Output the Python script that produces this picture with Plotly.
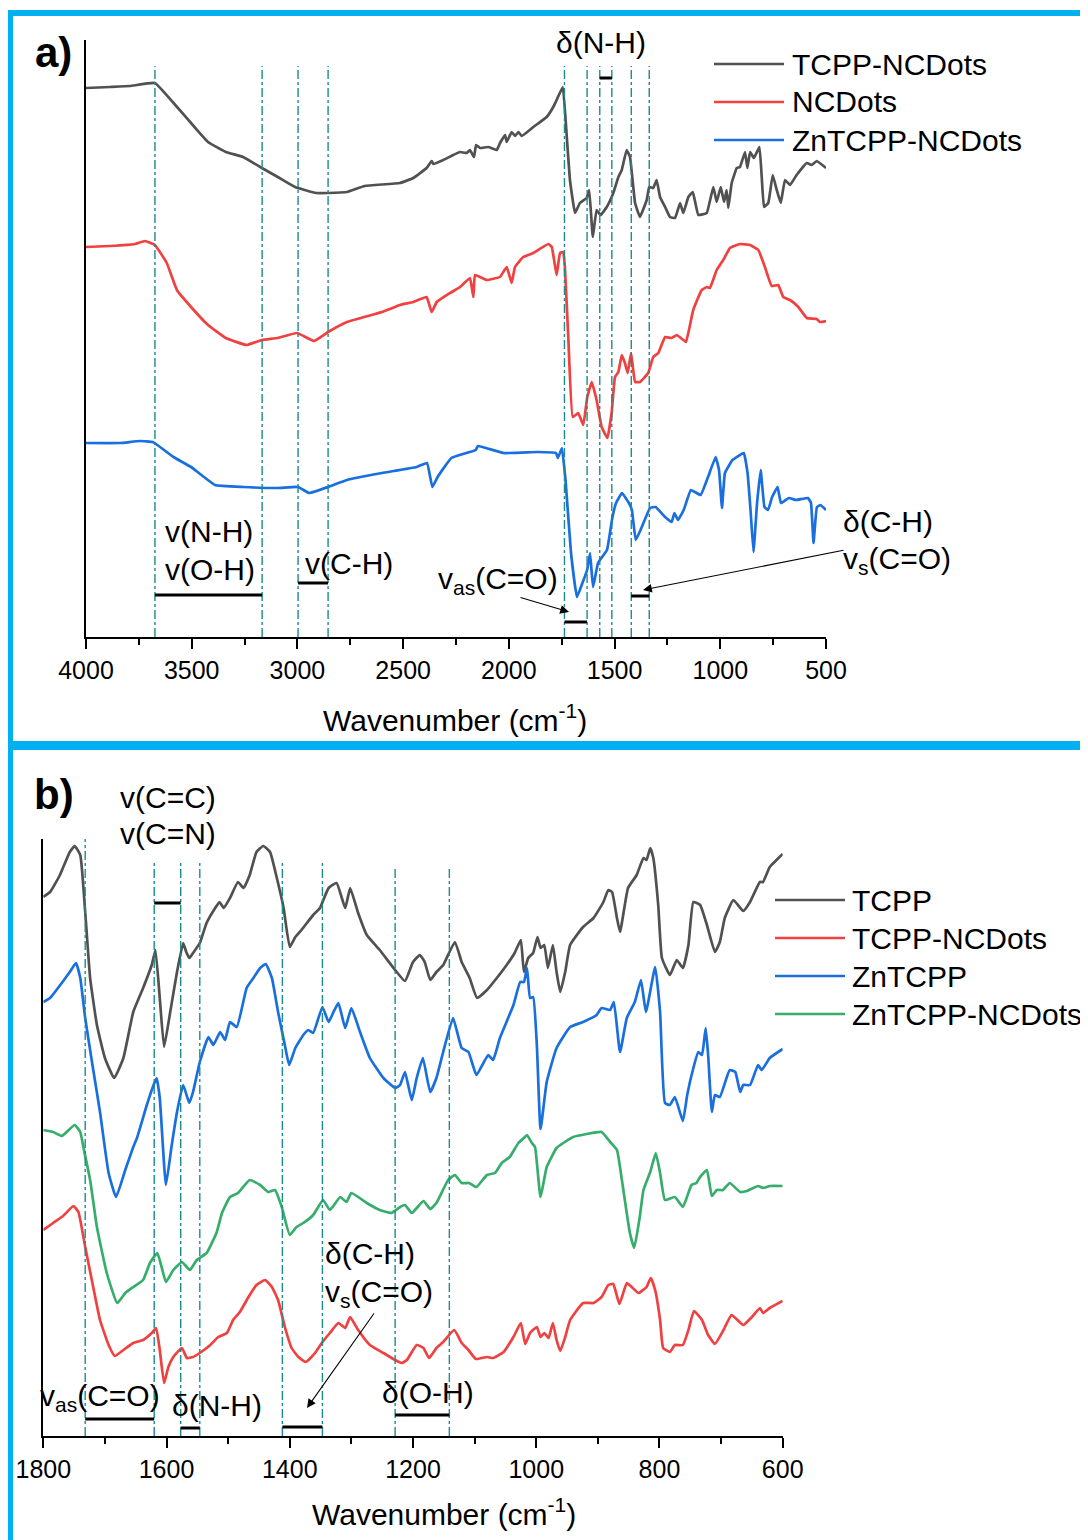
import plotly.graph_objects as go

W, H = 1088, 1540
OFF = 8  # browser default body margin, compensated so the figure lands at the reference pixels
FONT = "Liberation Sans, Arial, sans-serif"

# ---------------- Panel a data (wavenumber, transmittance readout in plot units) ----------------
a_tcpp_ncdots_x = [4000, 3886, 3792, 3674, 3586, 3487, 3423, 3339, 3257, 3168, 3093, 3011, 2912, 2855, 2766, 2682,
                   2515, 2452, 2389, 2365, 2357, 2310, 2263, 2231, 2199, 2184, 2165, 2155, 2136, 2097, 2057, 2042,
                   2018, 2010, 1987, 1971, 1955, 1939, 1884, 1821, 1790, 1774,
                   1745, 1726, 1711, 1687, 1664, 1632, 1620, 1603, 1585, 1566, 1537, 1506, 1482, 1466, 1443, 1427,
                   1403, 1380, 1348, 1336, 1317, 1301, 1285, 1261, 1238, 1214, 1190, 1175, 1151, 1130, 1104, 1064,
                   1033, 1017, 998, 982, 970, 962, 946, 922, 907, 883, 872, 859, 841, 815, 804, 793, 773, 752,
                   733, 714, 694, 670, 639, 591, 568, 544, 500]
a_tcpp_ncdots_y = [88, 87, 86, 83, 103, 127, 142, 152, 157, 168, 177, 187, 193, 193, 192, 186,
                   183, 178, 168, 161, 164, 160, 155, 152, 153, 150, 157, 145, 148, 147, 150, 143,
                   135, 142, 132, 136, 132, 136, 127, 117, 107, 100,
                   87, 137, 180, 213, 203, 198, 190, 237, 210, 215, 207, 193, 177, 170, 150, 157,
                   203, 217, 200, 187, 188, 180, 197, 207, 217, 218, 203, 213, 197, 192, 215, 213,
                   187, 202, 187, 202, 190, 208, 183, 168, 167, 152, 168, 152, 158, 147, 177, 207, 203, 175,
                   190, 203, 180, 185, 175, 163, 165, 161, 168]

a_ncdots_x = [4000, 3886, 3768, 3721, 3674, 3618, 3570, 3503, 3423, 3339, 3241, 3168, 3093, 3002, 2922, 2855,
              2766, 2600, 2515, 2452, 2389, 2365, 2341, 2278, 2231, 2184, 2168, 2160, 2105, 2042, 2010, 1987,
              1971, 1932, 1884, 1813, 1797, 1774, 1758, 1743, 1735, 1719, 1698, 1672, 1648, 1629, 1608, 1585,
              1561, 1534, 1514, 1498, 1482, 1466, 1451, 1438, 1422, 1403, 1380, 1341, 1317, 1293, 1261, 1230,
              1206, 1175, 1162, 1128, 1088, 1064, 1049, 1017, 986, 954, 907, 859, 820, 789, 757, 726, 702,
              670, 631, 591, 544, 530, 500]
a_ncdots_y = [247, 246, 244, 241, 245, 263, 290, 307, 325, 338, 345, 340, 338, 333, 341, 332,
              322, 312, 305, 302, 297, 312, 302, 293, 287, 278, 297, 275, 280, 277, 267, 283,
              267, 257, 253, 244, 247, 275, 253, 252, 267, 337, 417, 413, 425, 397, 382, 400,
              427, 438, 413, 377, 372, 355, 363, 373, 353, 382, 382, 373, 357, 353, 337, 338,
              335, 340, 342, 310, 290, 287, 288, 270, 260, 248, 244, 245, 250, 267, 286, 285, 297,
              300, 307, 318, 319, 322, 321]

a_zntcpp_ncdots_x = [4000, 3839, 3745, 3684, 3669, 3586, 3503, 3390, 3257, 3093, 2997, 2945, 2855, 2766, 2600,
                     2436, 2387, 2362, 2337, 2272, 2157, 2146, 2025, 1865, 1777, 1768, 1749, 1732, 1706, 1678,
                     1652, 1630, 1616, 1602, 1578, 1536, 1510, 1493, 1465, 1432, 1418, 1400, 1377, 1332, 1306,
                     1261, 1230, 1217, 1200, 1173, 1139, 1093, 1058, 1022, 1006, 992, 978, 942, 889, 871, 857,
                     843, 826, 809, 791, 774, 755, 729, 713, 676, 642, 585, 571, 559, 543, 526, 500]
a_zntcpp_ncdots_y = [443, 443, 441, 442, 444, 457, 467, 485, 487, 488, 487, 493, 487, 480, 473,
                     467, 463, 487, 477, 458, 450, 446, 453, 452, 453, 458, 448, 480, 553, 597,
                     583, 570, 553, 587, 563, 550, 517, 503, 493, 503, 510, 540, 530, 508, 507,
                     517, 522, 513, 520, 510, 490, 495, 477, 457, 470, 508, 473, 460, 453, 473, 510,
                     552, 503, 470, 507, 510, 497, 487, 503, 498, 500, 498, 503, 543, 507, 505, 510]

# ---------------- Panel b data ----------------
b_tcpp_x = [1800, 1789, 1773, 1757, 1749, 1740, 1732, 1724, 1713, 1700, 1685, 1670, 1654, 1638, 1624, 1618,
            1611, 1604, 1594, 1583, 1573, 1568, 1563, 1557, 1546, 1535, 1521, 1514, 1507, 1497, 1484, 1475,
            1465, 1454, 1443, 1432, 1421, 1410, 1400, 1391, 1381, 1362, 1351, 1337, 1324, 1310, 1302, 1289,
            1275, 1254, 1229, 1213, 1200, 1189, 1181, 1172, 1162, 1151, 1132, 1121, 1108, 1096, 1080, 1064,
            1048, 1035, 1025, 1020, 1013, 1005, 998, 993, 987, 981, 973, 967, 961, 953, 945, 924, 907, 891,
            883, 877, 869, 864, 851, 837, 826, 821, 815, 810, 802, 796, 783, 772, 762, 753, 745, 734, 723,
            710, 702, 694, 680, 664, 653, 637, 632, 621, 610, 600]
b_tcpp_y = [897, 892, 875, 852, 846, 855, 912, 978, 1025, 1058, 1078, 1058, 1012, 988, 965, 950,
            998, 1047, 1012, 972, 943, 952, 958, 953, 943, 923, 908, 902, 908, 898, 882, 888,
            875, 852, 846, 852, 878, 908, 947, 937, 930, 915, 908, 888, 883, 908, 888, 913,
            935, 950, 970, 981, 962, 955, 962, 980, 972, 965, 942, 962, 978, 998, 990, 978,
            965, 953, 940, 972, 958, 953, 937, 948, 945, 968, 945, 972, 992, 972, 945, 927, 918, 902,
            890, 892, 918, 932, 888, 875, 858, 860, 848, 858, 905, 958, 975, 960, 968, 945, 902, 905, 925,
            952, 942, 918, 900, 911, 902, 882, 882, 867, 860, 854]

b_zntcpp_x = [1800, 1789, 1770, 1757, 1747, 1740, 1732, 1721, 1708, 1694, 1682, 1667, 1654, 1648, 1632, 1621,
              1616, 1611, 1601, 1592, 1583, 1573, 1563, 1557, 1546, 1532, 1524, 1513, 1505, 1497, 1486, 1470,
              1459, 1448, 1439, 1429, 1419, 1408, 1401, 1391, 1378, 1370, 1362, 1347, 1337, 1329, 1321, 1310,
              1300, 1286, 1270, 1248, 1229, 1221, 1213, 1202, 1194, 1184, 1172, 1162, 1151, 1135, 1121, 1110,
              1097, 1078, 1070, 1059, 1037, 1026, 1020, 1015, 1010, 1005, 999, 993, 983, 967, 945, 924, 902,
              894, 880, 874, 864, 853, 840, 830, 822, 807, 799, 791, 783, 775, 762, 755, 745, 737, 731, 725,
              721, 715, 710, 702, 686, 677, 669, 664, 653, 640, 634, 621, 600]
b_zntcpp_y = [1002, 998, 983, 972, 963, 978, 1018, 1062, 1112, 1173, 1197, 1170, 1147, 1138, 1105, 1085,
              1078, 1098, 1185, 1147, 1112, 1085, 1103, 1092, 1062, 1037, 1045, 1032, 1040, 1022, 1027, 988,
              978, 968, 964, 978, 1012, 1045, 1065, 1048, 1035, 1030, 1033, 1007, 1022, 1012, 1003, 1028,
              1008, 1032, 1058, 1078, 1088, 1085, 1072, 1100, 1078, 1058, 1092, 1078, 1052, 1018, 1048, 1052,
              1075, 1055, 1060, 1038, 1005, 982, 982, 968, 998, 997, 1045, 1129, 1082, 1048, 1027, 1022, 1015,
              1008, 1010, 1002, 1052, 1018, 1002, 980, 1012, 967, 1012, 1103, 1105, 1097, 1121, 1095, 1068, 1052, 1055, 1028,
              1055, 1112, 1095, 1097, 1070, 1072, 1092, 1085, 1085, 1065, 1070, 1058, 1049]

b_zntcpp_ncdots_x = [1800, 1784, 1770, 1749, 1740, 1735, 1724, 1713, 1697, 1680, 1667, 1654, 1638, 1627, 1615,
                     1608, 1601, 1589, 1575, 1570, 1562, 1551, 1535, 1519, 1510, 1497, 1484, 1465, 1448, 1435,
                     1424, 1413, 1400, 1389, 1378, 1362, 1346, 1335, 1318, 1308, 1300, 1275, 1254, 1235, 1221,
                     1213, 1202, 1183, 1172, 1162, 1143, 1132, 1121, 1109, 1097, 1080, 1067, 1056, 1043, 1029,
                     1020, 1015, 1007, 1002, 993, 983, 967, 956, 940, 918, 894, 880, 869, 861, 848, 841, 832,
                     826, 815, 806, 799, 791, 775, 762, 748, 740, 734, 723, 715, 707, 697, 686, 669, 658, 640,
                     632, 621, 600]
b_zntcpp_ncdots_y = [1130, 1132, 1136, 1125, 1132, 1147, 1180, 1227, 1273, 1303, 1293, 1287, 1280, 1263, 1253,
                     1267, 1282, 1270, 1262, 1265, 1270, 1260, 1253, 1233, 1213, 1197, 1193, 1180, 1185, 1192,
                     1190, 1207, 1235, 1227, 1223, 1215, 1200, 1210, 1197, 1202, 1193, 1203, 1210, 1213, 1207,
                     1205, 1213, 1201, 1209, 1203, 1180, 1175, 1183, 1183, 1187, 1175, 1173, 1163, 1157, 1143,
                     1138, 1135, 1143, 1147, 1197, 1167, 1148, 1143, 1137, 1134, 1132, 1142, 1150, 1180, 1233, 1248, 1217,
                     1190, 1172, 1153, 1173, 1200, 1197, 1207, 1185, 1183, 1177, 1170, 1196, 1190, 1190, 1183, 1192, 1191, 1186,
                     1188, 1186, 1186]

b_tcpp_ncdots_x = [1800, 1784, 1768, 1751, 1743, 1732, 1719, 1708, 1694, 1684, 1670, 1654, 1638, 1624, 1617,
                   1611, 1604, 1597, 1589, 1575, 1567, 1557, 1546, 1529, 1516, 1502, 1492, 1481, 1467, 1454,
                   1440, 1429, 1419, 1408, 1397, 1386, 1374, 1359, 1348, 1335, 1321, 1310, 1302, 1289, 1270,
                   1248, 1229, 1218, 1210, 1194, 1183, 1174, 1162, 1151, 1133, 1121, 1110, 1098, 1080, 1070,
                   1053, 1037, 1025, 1018, 1010, 999, 993, 987, 980, 973, 967, 961, 953, 945, 924, 907, 894,
                   883, 875, 865, 853, 845, 834, 821, 814, 807, 799, 794, 783, 775, 762, 753, 744, 731, 721,
                   710, 696, 683, 664, 650, 637, 632, 621, 600]
b_tcpp_ncdots_y = [1230, 1223, 1216, 1206, 1212, 1247, 1287, 1320, 1345, 1356, 1350, 1343, 1340, 1333, 1328,
                   1350, 1383, 1367, 1357, 1348, 1358, 1357, 1353, 1345, 1337, 1333, 1320, 1312, 1297, 1285,
                   1280, 1287, 1300, 1327, 1348, 1357, 1362, 1353, 1343, 1333, 1323, 1328, 1317, 1330, 1345,
                   1353, 1360, 1363, 1360, 1345, 1348, 1358, 1348, 1342, 1330, 1343, 1350, 1359, 1357, 1358,
                   1352, 1337, 1323, 1344, 1333, 1327, 1337, 1333, 1338, 1323, 1340, 1351, 1337, 1320, 1303, 1303, 1297,
                   1285, 1284, 1304, 1283, 1287, 1293, 1287, 1278, 1290, 1320, 1348, 1352, 1345, 1345, 1330, 1311, 1320, 1335,
                   1344, 1330, 1315, 1325, 1317, 1308, 1313, 1308, 1301]

# marked band positions (cm-1)
a_peaks = [3674, 3167, 2997, 2855, 1737, 1630, 1570, 1513, 1421, 1336]
b_peaks = [1732, 1620, 1577, 1546, 1412, 1347, 1229, 1141]
b_peak_tops = [832, 862, 862, 862, 860, 862, 867, 868]

a_bands = [(3674, 3167, 595), (2997, 2855, 583), (1570, 1513, 78), (1737, 1630, 622), (1421, 1336, 596)]
b_bands = [(1620, 1577, 903), (1732, 1620, 1419), (1577, 1546, 1428), (1412, 1347, 1427), (1229, 1141, 1415)]

a_names = ["TCPP-NCDots", "NCDots", "ZnTCPP-NCDots"]
b_names = ["TCPP", "TCPP-NCDots", "ZnTCPP", "ZnTCPP-NCDots"]

GREY, RED, BLUE, GREEN = "#515151", "#F14040", "#1A6FDF", "#37AD6B"
TEAL = "#1a8c8c"


def X(p):
    return (p - OFF) / W


def Y(p):
    return 1 - (p - OFF) / H


fig = go.Figure()

line_kw = dict(width=2.7)
for xs, ys, c, n in [(a_tcpp_ncdots_x, a_tcpp_ncdots_y, GREY, a_names[0]),
                     (a_ncdots_x, a_ncdots_y, RED, a_names[1]),
                     (a_zntcpp_ncdots_x, a_zntcpp_ncdots_y, BLUE, a_names[2])]:
    fig.add_trace(go.Scatter(x=xs, y=ys, mode="lines", name=n, showlegend=False,
                             line=dict(color=c, shape="spline", smoothing=0.3, **line_kw),
                             xaxis="x", yaxis="y"))

for xs, ys, c, n in [(b_tcpp_x, b_tcpp_y, GREY, b_names[0]),
                     (b_zntcpp_x, b_zntcpp_y, BLUE, b_names[2]),
                     (b_zntcpp_ncdots_x, b_zntcpp_ncdots_y, GREEN, b_names[3]),
                     (b_tcpp_ncdots_x, b_tcpp_ncdots_y, RED, b_names[1])]:
    fig.add_trace(go.Scatter(x=xs, y=ys, mode="lines", name=n, showlegend=False,
                             line=dict(color=c, shape="spline", smoothing=0.4, **line_kw),
                             xaxis="x2", yaxis="y2"))

shapes = []
# cyan panel frames
shapes.append(dict(type="rect", xref="paper", yref="paper", x0=X(10), x1=X(1120), y0=Y(744), y1=Y(13),
                   line=dict(color="#00B0F0", width=6), layer="below"))
shapes.append(dict(type="rect", xref="paper", yref="paper", x0=X(10), x1=X(1120), y0=Y(1580), y1=Y(747),
                   line=dict(color="#00B0F0", width=6), layer="below"))

for p in a_peaks:
    shapes.append(dict(type="line", xref="x", yref="y", x0=p, x1=p, y0=637, y1=66,
                       line=dict(color=TEAL, width=1.4, dash="dashdot")))
for p, t in zip(b_peaks, b_peak_tops):
    shapes.append(dict(type="line", xref="x2", yref="y2", x0=p, x1=p, y0=1436, y1=t,
                       line=dict(color=TEAL, width=1.4, dash="dashdot")))
for x0, x1, yv in a_bands:
    shapes.append(dict(type="line", xref="x", yref="y", x0=x0, x1=x1, y0=yv, y1=yv,
                       line=dict(color="black", width=3)))
for x0, x1, yv in b_bands:
    shapes.append(dict(type="line", xref="x2", yref="y2", x0=x0, x1=x1, y0=yv, y1=yv,
                       line=dict(color="black", width=3)))

# manual legends
ann = []
for i, (n, c) in enumerate(zip(a_names, [GREY, RED, BLUE])):
    yy = 64 + 38 * i
    shapes.append(dict(type="line", xref="paper", yref="paper", x0=X(714), x1=X(784), y0=Y(yy), y1=Y(yy),
                       line=dict(color=c, width=2.7)))
    ann.append(dict(text=n, x=X(790), y=Y(yy), xanchor="left", yanchor="middle"))
for i, (n, c) in enumerate(zip(b_names, [GREY, RED, BLUE, GREEN])):
    yy = 900 + 38 * i
    shapes.append(dict(type="line", xref="paper", yref="paper", x0=X(775), x1=X(845), y0=Y(yy), y1=Y(yy),
                       line=dict(color=c, width=2.7)))
    ann.append(dict(text=n, x=X(850), y=Y(yy), xanchor="left", yanchor="middle"))

labels = [
    ("δ(N-H)", 554, 43), ("v(N-H)", 163, 531), ("v(O-H)", 163, 569), ("v(C-H)", 303, 563),
    ("v<sub>as</sub>(C=O)", 436, 580), ("δ(C-H)", 841, 522), ("v<sub>s</sub>(C=O)", 841, 560),
    ("v(C=C)", 118, 797), ("v(C=N)", 118, 833), ("δ(C-H)", 323, 1253), ("v<sub>s</sub>(C=O)", 323, 1293),
    ("v<sub>as</sub>(C=O)", 38, 1397), ("δ(N-H)", 170, 1405), ("δ(O-H)", 380, 1392),
]
for t, lx, ly in labels:
    ann.append(dict(text=t, x=X(lx), y=Y(ly), xanchor="left", yanchor="middle"))

for a in ann:
    a.update(xref="paper", yref="paper", showarrow=False, font=dict(size=30, color="black", family=FONT))

# panel letters
ann.append(dict(text="<b>a)</b>", x=X(53), y=Y(52), xref="paper", yref="paper", showarrow=False,
                xanchor="center", yanchor="middle", font=dict(size=42, color="black", family=FONT)))
ann.append(dict(text="<b>b)</b>", x=X(54), y=Y(794), xref="paper", yref="paper", showarrow=False,
                xanchor="center", yanchor="middle", font=dict(size=42, color="black", family=FONT)))
# axis titles
ann.append(dict(text="Wavenumber (cm<sup>-1</sup>)", x=X(455), y=Y(718), xref="paper", yref="paper",
                xanchor="center", yanchor="middle",
                showarrow=False, font=dict(size=30, color="black", family=FONT)))
ann.append(dict(text="Wavenumber (cm<sup>-1</sup>)", x=X(444), y=Y(1512), xref="paper", yref="paper",
                xanchor="center", yanchor="middle",
                showarrow=False, font=dict(size=30, color="black", family=FONT)))
# arrows (head position, tail offset in px)
for hx, hy, tx, ty in [(569, 612, 519, 597), (643, 590, 845, 550), (307, 1408, 375, 1312)]:
    ann.append(dict(text="", x=X(hx), y=Y(hy), xref="paper", yref="paper", showarrow=True,
                    ax=tx - hx, ay=ty - hy, arrowhead=2, arrowsize=1.6, arrowwidth=1.1, arrowcolor="black"))

axis_common = dict(showline=True, linecolor="black", linewidth=2, showgrid=False, zeroline=False, mirror=False)
xcommon = dict(ticks="outside", ticklen=10, tickwidth=2, tickcolor="black",
               tickfont=dict(size=25, color="black", family=FONT), ticklabelstandoff=0, **axis_common)

fig.update_layout(
    width=W, height=H, template="none",
    margin=dict(l=0, r=0, t=0, b=0),
    paper_bgcolor="white", plot_bgcolor="rgba(0,0,0,0)",
    showlegend=False,
    xaxis=dict(domain=[X(86), X(826)], range=[4000, 500], anchor="y", tick0=0, dtick=500,
               minor=dict(ticks="outside", ticklen=6, tickwidth=2, tickcolor="black", dtick=250), **xcommon),
    yaxis=dict(domain=[Y(637), Y(40)], range=[637, 40], anchor="x", ticks="", showticklabels=False,
               **axis_common),
    xaxis2=dict(domain=[X(43.3), X(782.7)], range=[1800, 600], anchor="y2", tick0=0, dtick=200,
                minor=dict(ticks="outside", ticklen=6, tickwidth=2, tickcolor="black", dtick=100), **xcommon),
    yaxis2=dict(domain=[Y(1436), Y(839)], range=[1436, 839], anchor="x2", ticks="", showticklabels=False,
                **axis_common),
    shapes=shapes,
    annotations=ann,
)

fig.write_html("out.html")
